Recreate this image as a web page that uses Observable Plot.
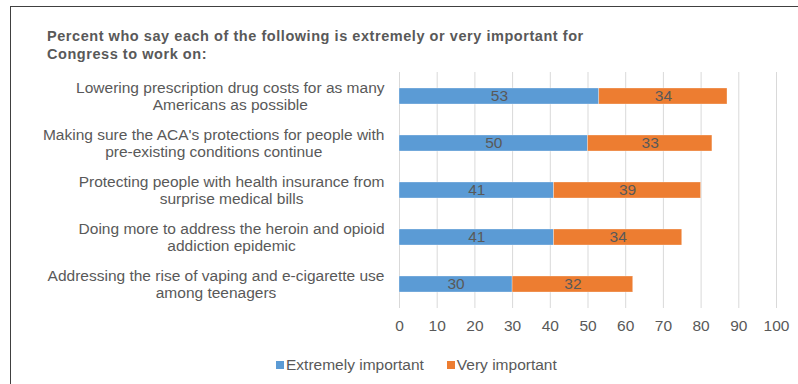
<!DOCTYPE html>
<html>
<head>
<meta charset="utf-8">
<script src="https://cdn.jsdelivr.net/npm/d3@7"></script>
<script src="https://cdn.jsdelivr.net/npm/@observablehq/plot@0.6"></script>
<style>
  html, body { margin: 0; padding: 0; background: #fff; }
  #wrap { position: relative; width: 798px; height: 384px; overflow: hidden; font-family: "Liberation Sans", Arial, sans-serif; }
  #frame { position: absolute; left: 10px; top: 6px; width: 820px; height: 420px; border: 1px solid #404040; box-sizing: border-box; }
  #title { position: absolute; left: 47px; top: 27px; font-size: 14.5px; letter-spacing: 0.55px; font-weight: bold; color: #595959; line-height: 18px; }
  #chart { position: absolute; left: 0; top: 65px; }
  #legend { position: absolute; left: 276px; top: 356px; font-size: 15.5px; color: #595959; display: flex; gap: 23px; }
  #legend span.sw { display: inline-block; width: 8px; height: 8px; margin-right: 2px; vertical-align: 1px; }
</style>
</head>
<body>
<div id="wrap">
  <div id="frame"></div>
  <div id="title">Percent who say each of the following is extremely or very important for<br>Congress to work on:</div>
  <div id="chart"></div>
  <div id="legend"></div>
</div>
<script>
const categories = [
  "Lowering prescription drug costs for as many\nAmericans as possible",
  "Making sure the ACA's protections for people with\npre-existing conditions continue",
  "Protecting people with health insurance from\nsurprise medical bills",
  "Doing more to address the heroin and opioid\naddiction epidemic",
  "Addressing the rise of vaping and e-cigarette use\namong teenagers"
];
const extremely = [53, 50, 41, 41, 30];
const very = [34, 33, 39, 34, 32];
const seriesNames = ["Extremely important", "Very important"];
const seriesColors = ["#5B9BD5", "#ED7D31"];
const xTicks = [0, 10, 20, 30, 40, 50, 60, 70, 80, 90, 100];

const data = [];
categories.forEach((c, i) => {
  data.push({category: c, series: seriesNames[0], value: extremely[i]});
  data.push({category: c, series: seriesNames[1], value: very[i]});
});

const chart = Plot.plot({
  width: 798,
  height: 275,
  marginLeft: 399,
  marginRight: 22,
  marginTop: 7,
  marginBottom: 32,
  style: {fontFamily: "'Liberation Sans', Arial, sans-serif", color: "#595959", background: "transparent"},
  x: {domain: [0, 100], ticks: xTicks},
  y: {domain: categories, paddingInner: 0.66, paddingOuter: 0.33},
  color: {domain: seriesNames, range: seriesColors},
  marks: [
    Plot.gridX(xTicks, {stroke: "#d9d9d9", strokeOpacity: 1, strokeWidth: 1}),
    Plot.barX(data, Plot.stackX({x: "value", y: "category", fill: "series", order: seriesNames, stroke: "#fff", strokeWidth: 0.5, strokeOpacity: 0.6})),
    Plot.text(data, Plot.stackX({x: "value", y: "category", z: "series", order: seriesNames, text: d => String(d.value), fill: "#595959", fontSize: 15.5})),
    Plot.axisX(xTicks, {tickSize: 0, tickPadding: 11, fontSize: 15.5, fill: "#595959", label: null}),
    Plot.axisY({tickSize: 0, tickPadding: 15, textAnchor: "end", fontSize: 15.5, lineHeight: 1.1, fill: "#595959", label: null})
  ]
});
document.getElementById("chart").appendChild(chart);

// Excel-style: each label block is centred on itself, block right-aligned to the axis
chart.querySelectorAll('g[aria-label="y-axis tick label"] text').forEach(t => {
  const spans = t.querySelectorAll("tspan");
  const parts = spans.length ? Array.from(spans) : [t];
  const w = Math.max(...parts.map(p => p.getComputedTextLength()));
  t.setAttribute("text-anchor", "middle");
  if (spans.length) spans.forEach(s => s.setAttribute("x", -w / 2));
  else t.setAttribute("dx", -w / 2);
});

const legend = document.getElementById("legend");
seriesNames.forEach((s, i) => {
  const item = document.createElement("div");
  item.innerHTML = `<span class="sw" style="background:${seriesColors[i]}"></span>${s}`;
  legend.appendChild(item);
});
</script>
</body>
</html>
